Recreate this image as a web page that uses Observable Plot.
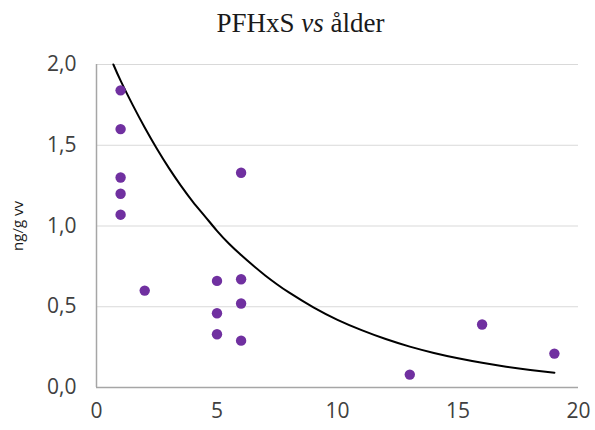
<!DOCTYPE html>
<html>
<head>
<meta charset="utf-8">
<script src="https://cdn.jsdelivr.net/npm/d3@7"></script>
<script src="https://cdn.jsdelivr.net/npm/@observablehq/plot@0.6"></script>
<style>
  body { margin: 0; background: #fff; }
  #wrap { width: 595px; }
  #title {
    height: 46px; line-height: 42px; text-align: center;
    font-family: "Liberation Serif", "Times New Roman", serif;
    font-size: 27px; color: #1a1a1a; padding-left: 6px; padding-top: 2px; box-sizing: border-box;
  }
  #chart svg text { font-family: "Open Sans", "Liberation Sans", sans-serif; }
</style>
</head>
<body>
<div id="wrap">
  <div id="title">PFHxS <i>vs</i> ålder</div>
  <div id="chart"></div>
</div>
<script>
// Age (years) and PFHxS concentration (ng/g wet weight)
const age   = [1, 1, 1, 1, 1, 2, 5, 5, 5, 6, 6, 6, 6, 13, 16, 19];
const pfhxs = [1.84, 1.60, 1.30, 1.20, 1.07, 0.60, 0.66, 0.46, 0.33, 1.33, 0.67, 0.52, 0.29, 0.08, 0.39, 0.21];

// Exponential trendline, sampled along the age axis
const trendAge = [0.7, 1, 1.5, 2, 2.5, 3, 3.5, 4, 4.5, 5, 5.5, 6, 6.5, 7, 7.5, 8, 9, 10, 11, 12, 13, 14, 15, 16, 17, 18, 19];
const trendVal = [2.00, 1.90, 1.75, 1.61, 1.48, 1.36, 1.25, 1.15, 1.06, 0.97, 0.89, 0.82, 0.755, 0.694, 0.638, 0.587, 0.496, 0.419, 0.355, 0.300, 0.253, 0.214, 0.181, 0.153, 0.129, 0.109, 0.092];

const xTicks = [0, 5, 10, 15, 20];
const yTicks = [0, 0.5, 1.0, 1.5, 2.0];

const points = age.map((a, i) => ({age: a, value: pfhxs[i]}));
const trend = trendAge.map((a, i) => ({age: a, value: trendVal[i]}));
const comma = v => d3.format(".1f")(v).replace(".", ",");

const chart = Plot.plot({
  width: 595,
  height: 384,
  marginTop: 18,
  marginBottom: 43,
  marginLeft: 96,
  marginRight: 17,
  style: {fontSize: "21px", color: "#404040", background: "#fff"},
  x: {domain: [0, 20], label: null},
  y: {domain: [0, 2], label: null},
  marks: [
    Plot.gridY(yTicks.slice(1), {stroke: "#d9d9d9", strokeOpacity: 1, strokeWidth: 1}),
    Plot.ruleX([0], {stroke: "#a6a6a6", strokeWidth: 1.5}),
    Plot.ruleY([0], {stroke: "#a6a6a6", strokeWidth: 1.5}),
    Plot.axisX({ticks: xTicks, tickSize: 0, tickPadding: 16, fontSize: 21, label: null}),
    Plot.axisY({ticks: yTicks, tickSize: 0, tickPadding: 20, tickFormat: comma, fontSize: 21, label: null}),
    Plot.text(["ng/g vv"], {frameAnchor: "left", textAnchor: "middle", dx: -78, rotate: -90, fontSize: 15, fill: "#1a1a1a"}),
    Plot.line(trend, {x: "age", y: "value", stroke: "#000", strokeWidth: 2, curve: "natural"}),
    Plot.dot(points, {x: "age", y: "value", r: 5.2, fill: "#7030a0", stroke: "none"})
  ]
});
document.getElementById("chart").append(chart);
</script>
</body>
</html>
